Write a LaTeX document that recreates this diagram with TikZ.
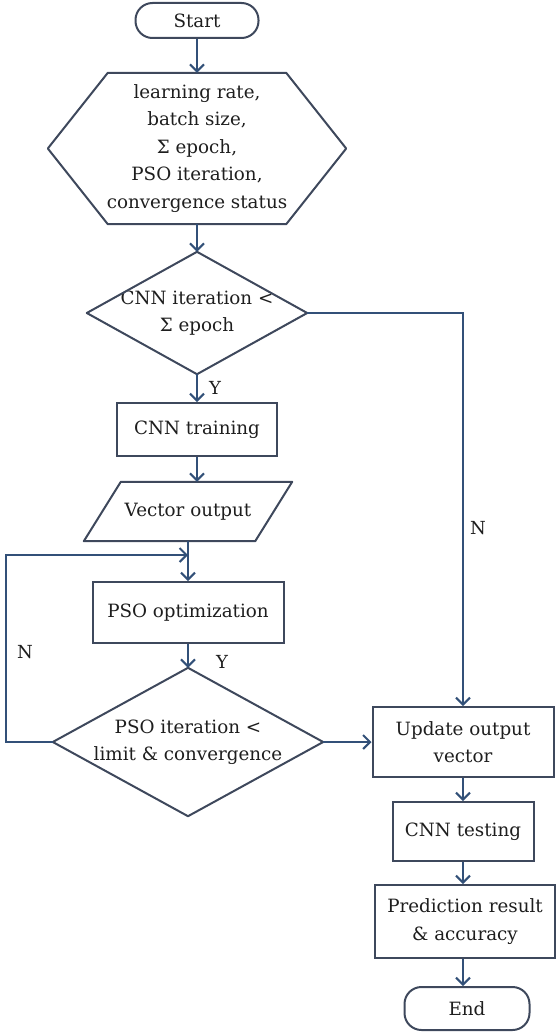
\documentclass[tikz,border=0pt]{standalone}
\usepackage{fontspec}
\setmainfont{DejaVu Serif}
\usetikzlibrary{arrows.meta,calc}

\definecolor{edgecol}{RGB}{62,72,92}
\definecolor{flowcol}{RGB}{50,80,120}
\definecolor{inkcol}{RGB}{30,30,30}

\tikzset{
  base/.style={rectangle, align=center, inner sep=0pt, text=inkcol,
    font=\fontsize{18.3}{27.5}\selectfont},
  procbox/.style={base, draw=edgecol, line width=2pt},
  termbox/.style={procbox, rounded corners=17pt},
  ghost/.style={base},
  outline/.style={draw=edgecol, line width=2pt, line join=round},
  flow/.style={draw=flowcol, line width=2.2pt,
    -{Straight Barb[length=7pt,width=14pt,line width=2pt]}},
  lbl/.style={text=inkcol, font=\fontsize{18}{20}\selectfont},
}

\begin{document}
\begin{tikzpicture}[x=1pt,y=-1pt]
\useasboundingbox (0,0) rectangle (556,1033);

% terminal and input nodes of the upper column
\node[termbox, minimum width=123pt, minimum height=35pt] (start) at (197,20.5) {Start};

\node[ghost, minimum width=298pt, minimum height=151pt] (hex) at (197,148.5)
  {learning rate,\\batch size,\\Σ epoch,\\PSO iteration,\\convergence status};
\draw[outline] (hex.west) -- ([xshift=60pt]hex.north west) -- ([xshift=-60pt]hex.north east)
  -- (hex.east) -- ([xshift=-60pt]hex.south east) -- ([xshift=60pt]hex.south west) -- cycle;

\node[ghost, minimum width=220pt, minimum height=122pt] (d1) at (197,313)
  {CNN iteration <\\Σ epoch};
\draw[outline] (d1.north) -- (d1.east) -- (d1.south) -- (d1.west) -- cycle;

\node[procbox, minimum width=160pt, minimum height=53pt] (train) at (197,429.5) {CNN training};

% optimisation loop
\node[ghost, minimum width=208pt, minimum height=59pt] (vec) at (188,511.5) {Vector output};
\draw[outline] ([xshift=37pt]vec.north west) -- (vec.north east)
  -- ([xshift=-37pt]vec.south east) -- (vec.south west) -- cycle;

\node[procbox, minimum width=191pt, minimum height=61pt] (pso) at (188,612.5) {PSO optimization};

\node[ghost, minimum width=270pt, minimum height=148pt] (d2) at (188,742)
  {PSO iteration <\\limit \& convergence};
\draw[outline] (d2.north) -- (d2.east) -- (d2.south) -- (d2.west) -- cycle;

\coordinate (join) at (188,555);

% output column
\node[procbox, minimum width=181pt, minimum height=70pt] (upd) at (463,742) {Update output\\vector};
\node[procbox, minimum width=141pt, minimum height=59pt] (test) at (463,831.5) {CNN testing};
\node[procbox, minimum width=180pt, minimum height=73pt] (pred) at (465,921.5) {Prediction result\\\& accuracy};
\node[termbox, minimum width=125pt, minimum height=43pt] (stop) at (467,1008.5) {End};

% connectors
\draw[flow] (start.south) -- (start.south |- hex.north);
\draw[flow] (hex.south) -- (d1.north);
\draw[flow] (d1.south) -- (train.north);
\draw[flow] (train.south) -- (train.south |- vec.north);
\draw[flow] (vec.south) -- (pso.north);
\draw[flow] (d2.west) -- ++(-47,0) |- (join);
\draw[flow] (pso.south) -- (d2.north);
\draw[flow] (d1.east) -| (upd.north);
\draw[flow] (d2.east) -- (upd.west);
\draw[flow] (upd.south) -- (upd.south |- test.north);
\draw[flow] (test.south) -- (test.south |- pred.north);
\draw[flow] (pred.south -| test.south) -- (test.south |- stop.north);

% branch labels
\node[lbl] (y1) at (215,388) {Y};
\node[lbl] (y2) at (222,662) {Y};
\node[lbl] (n1) at (25,652) {N};
\node[lbl] (n2) at (478,528) {N};
\end{tikzpicture}
\end{document}
